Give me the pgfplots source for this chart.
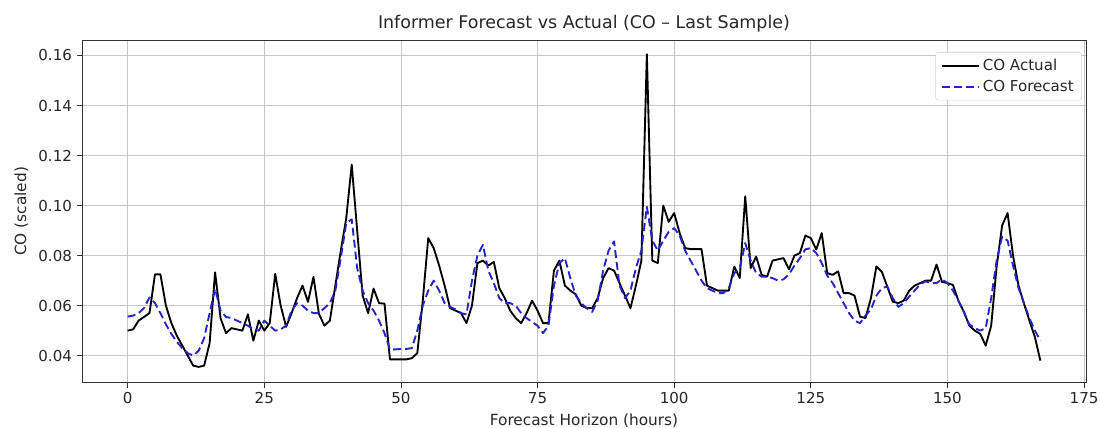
\documentclass[border=0pt]{standalone}
\usepackage{pgfplots}
\pgfplotsset{compat=1.18}
\usepackage{pgfplotstable}
\usepackage{fontspec}
\setmainfont{DejaVu Sans}
\definecolor{fcblue}{RGB}{35,35,200}

\pgfplotstableread{
h v
0 0.0500
1 0.0505
2 0.0540
3 0.0555
4 0.0570
5 0.0725
6 0.0725
7 0.0600
8 0.0530
9 0.0480
10 0.0440
11 0.0400
12 0.0360
13 0.0355
14 0.0360
15 0.0450
16 0.0733
17 0.0550
18 0.0490
19 0.0510
20 0.0505
21 0.0500
22 0.0565
23 0.0460
24 0.0540
25 0.0500
26 0.0530
27 0.0727
28 0.0600
29 0.0515
30 0.0570
31 0.0630
32 0.0680
33 0.0615
34 0.0715
35 0.0567
36 0.0520
37 0.0540
38 0.0680
39 0.0820
40 0.0950
41 0.1164
42 0.0900
43 0.0640
44 0.0570
45 0.0668
46 0.0610
47 0.0608
48 0.0385
49 0.0385
50 0.0385
51 0.0385
52 0.0390
53 0.0410
54 0.0620
55 0.0870
56 0.0830
57 0.0760
58 0.0680
59 0.0590
60 0.0580
61 0.0570
62 0.0530
63 0.0600
64 0.0770
65 0.0780
66 0.0760
67 0.0775
68 0.0670
69 0.0630
70 0.0580
71 0.0550
72 0.0530
73 0.0570
74 0.0620
75 0.0580
76 0.0530
77 0.0530
78 0.0740
79 0.0780
80 0.0680
81 0.0660
82 0.0645
83 0.0600
84 0.0590
85 0.0590
86 0.0630
87 0.0710
88 0.0750
89 0.0740
90 0.0690
91 0.0640
92 0.0590
93 0.0680
94 0.0780
95 0.1605
96 0.0780
97 0.0770
98 0.1000
99 0.0935
100 0.0970
101 0.0890
102 0.0830
103 0.0826
104 0.0826
105 0.0826
106 0.0680
107 0.0670
108 0.0660
109 0.0660
110 0.0660
111 0.0756
112 0.0710
113 0.1037
114 0.0750
115 0.0796
116 0.0723
117 0.0716
118 0.0780
119 0.0785
120 0.0790
121 0.0745
122 0.0800
123 0.0810
124 0.0880
125 0.0870
126 0.0824
127 0.0890
128 0.0730
129 0.0723
130 0.0737
131 0.0650
132 0.0650
133 0.0640
134 0.0556
135 0.0550
136 0.0630
137 0.0757
138 0.0735
139 0.0675
140 0.0616
141 0.0610
142 0.0620
143 0.0660
144 0.0680
145 0.0690
146 0.0700
147 0.0700
148 0.0764
149 0.0695
150 0.0690
151 0.0683
152 0.0620
153 0.0575
154 0.0520
155 0.0500
156 0.0487
157 0.0440
158 0.0520
159 0.0756
160 0.0920
161 0.0970
162 0.0800
163 0.0680
164 0.0608
165 0.0540
166 0.0474
167 0.0380
}\actual

\pgfplotstableread{
h v
0 0.0556
1 0.0560
2 0.0570
3 0.0590
4 0.0633
5 0.0610
6 0.0570
7 0.0525
8 0.0487
9 0.0455
10 0.0430
11 0.0410
12 0.0400
13 0.0420
14 0.0470
15 0.0570
16 0.0667
17 0.0580
18 0.0555
19 0.0550
20 0.0540
21 0.0530
22 0.0520
23 0.0505
24 0.0500
25 0.0540
26 0.0520
27 0.0500
28 0.0505
29 0.0520
30 0.0580
31 0.0610
32 0.0600
33 0.0580
34 0.0570
35 0.0570
36 0.0590
37 0.0610
38 0.0660
39 0.0790
40 0.0930
41 0.0945
42 0.0750
43 0.0660
44 0.0610
45 0.0580
46 0.0540
47 0.0490
48 0.0425
49 0.0425
50 0.0427
51 0.0427
52 0.0430
53 0.0500
54 0.0600
55 0.0660
56 0.0700
57 0.0660
58 0.0610
59 0.0595
60 0.0585
61 0.0570
62 0.0565
63 0.0700
64 0.0800
65 0.0843
66 0.0740
67 0.0690
68 0.0630
69 0.0610
70 0.0610
71 0.0600
72 0.0570
73 0.0550
74 0.0535
75 0.0520
76 0.0490
77 0.0520
78 0.0680
79 0.0770
80 0.0790
81 0.0710
82 0.0640
83 0.0610
84 0.0590
85 0.0575
86 0.0620
87 0.0740
88 0.0820
89 0.0857
90 0.0680
91 0.0630
92 0.0660
93 0.0750
94 0.0820
95 0.0995
96 0.0860
97 0.0820
98 0.0860
99 0.0895
100 0.0910
101 0.0880
102 0.0820
103 0.0780
104 0.0740
105 0.0700
106 0.0670
107 0.0660
108 0.0650
109 0.0650
110 0.0670
111 0.0730
112 0.0750
113 0.0850
114 0.0780
115 0.0730
116 0.0716
117 0.0716
118 0.0710
119 0.0700
120 0.0705
121 0.0725
122 0.0760
123 0.0790
124 0.0825
125 0.0830
126 0.0810
127 0.0770
128 0.0720
129 0.0690
130 0.0650
131 0.0610
132 0.0570
133 0.0540
134 0.0530
135 0.0560
136 0.0585
137 0.0640
138 0.0670
139 0.0676
140 0.0630
141 0.0595
142 0.0610
143 0.0636
144 0.0660
145 0.0685
146 0.0697
147 0.0690
148 0.0690
149 0.0705
150 0.0690
151 0.0660
152 0.0620
153 0.0575
154 0.0525
155 0.0510
156 0.0500
157 0.0510
158 0.0630
159 0.0780
160 0.0876
161 0.0860
162 0.0760
163 0.0670
164 0.0610
165 0.0550
166 0.0500
167 0.0460
}\forecast

\begin{document}
\begin{tikzpicture}
\useasboundingbox (-61.5pt,-34pt) rectangle (763.5pt,287pt);
\begin{axis}[
  at={(0,0)}, anchor=south west,
  scale only axis,
  width=753pt, height=257pt,
  xmin=-8.35, xmax=175.35,
  ymin=0.0292, ymax=0.1662,
  xtick={0,25,50,75,100,125,150,175},
  ytick={0.04,0.06,0.08,0.10,0.12,0.14,0.16},
  scaled y ticks=false,
  /pgf/number format/assume math mode=true,
  xticklabel={\pgfmathprintnumber[assume math mode=true]{\tick}},
  yticklabel={\pgfmathprintnumber[fixed,fixed zerofill,precision=2,assume math mode=true]{\tick}},
  tick label style={font=\fontsize{11.3}{13}\selectfont, color=black!85},
  tick pos=left,
  tick align=outside,
  major tick length=4pt,
  tick style={black!80, line width=0.6pt},
  axis line style={black!80, line width=0.7pt},
  grid=major,
  major grid style={gray!45, line width=0.6pt},
  title={Informer Forecast vs Actual (CO – Last Sample)},
  title style={font=\fontsize{13.1}{15}\selectfont, color=black!85, at={(axis description cs:0.5,1.0525)}, anchor=center, yshift=-7.5pt},
  xlabel={Forecast Horizon (hours)},
  ylabel={CO (scaled)},
  xlabel style={font=\fontsize{11.5}{13}\selectfont, color=black!85, at={(axis description cs:0.5,-0.1117)}, anchor=center},
  ylabel style={font=\fontsize{11.5}{13}\selectfont, color=black!85, at={(axis description cs:-0.0605,0.5)}, anchor=center},
  legend style={at={(axis description cs:0.996,0.965)}, anchor=north east,
    draw=gray!35, rounded corners=2pt, fill=white,
    font=\fontsize{11.3}{13}\selectfont, text=black!85,
    row sep=2pt, inner xsep=4pt, inner ysep=3pt},
  legend cell align=left,
  legend image code/.code={\draw[#1] (0pt,0pt) -- (28pt,0pt);},
]
\addplot[black, line width=1.4pt, line join=round] table[x=h, y=v] {\actual};
\addlegendentry{CO Actual}
\addplot[fcblue, line width=1.4pt, dash pattern=on 6pt off 3pt, line join=round] table[x=h, y=v] {\forecast};
\addlegendentry{CO Forecast}
\end{axis}
\end{tikzpicture}
\end{document}
